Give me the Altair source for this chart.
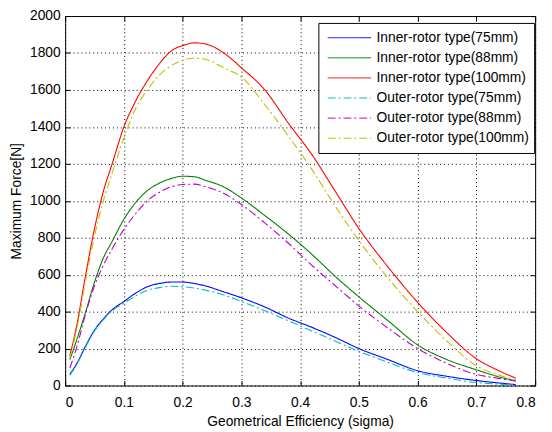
import altair as alt
import pandas as pd

sigma = [0.008, 0.02, 0.035, 0.05, 0.065, 0.08, 0.1, 0.12, 0.14, 0.16, 0.18, 0.2, 0.22, 0.24,
         0.27, 0.3, 0.34, 0.38, 0.42, 0.46, 0.5, 0.55, 0.6, 0.65, 0.7, 0.735, 0.767]

inner_75 = [60, 120, 215, 300, 360, 410, 455, 500, 535, 552, 560, 560, 552, 538,
            507, 475, 425, 365, 315, 260, 200, 140, 80, 50, 27, 15, 5]
inner_88 = [140, 250, 400, 560, 690, 780, 900, 990, 1055, 1095, 1120, 1133, 1130, 1110,
            1075, 1015, 920, 820, 710, 590, 480, 350, 220, 140, 85, 50, 25]
inner_100 = [160, 330, 600, 850, 1050, 1200, 1400, 1540, 1650, 1740, 1810, 1840, 1855, 1848,
             1800, 1720, 1600, 1420, 1250, 1050, 850, 640, 450, 285, 145, 85, 40]
outer_75 = [55, 115, 210, 295, 355, 405, 445, 485, 515, 530, 537, 535, 528, 515,
            490, 455, 405, 350, 295, 240, 185, 125, 70, 40, 16, 8, 3]
outer_88 = [95, 210, 390, 540, 650, 740, 845, 930, 1000, 1045, 1075, 1088, 1090, 1075,
            1040, 980, 880, 770, 650, 540, 430, 310, 200, 120, 60, 40, 25]
outer_100 = [150, 310, 570, 810, 1000, 1150, 1340, 1500, 1600, 1680, 1730, 1760, 1772, 1765,
             1720, 1670, 1520, 1350, 1170, 970, 785, 580, 400, 240, 107, 60, 30]

series_names = ["Inner-rotor type(75mm)", "Inner-rotor type(88mm)", "Inner-rotor type(100mm)",
                "Outer-rotor type(75mm)", "Outer-rotor type(88mm)", "Outer-rotor type(100mm)"]
series_values = [inner_75, inner_88, inner_100, outer_75, outer_88, outer_100]
colors = ["#0000ff", "#008000", "#ff0000", "#00bfbf", "#bf00bf", "#bfbf00"]
dashes = [[1, 0], [1, 0], [1, 0], [8, 3, 2, 3], [8, 3, 2, 3], [8, 3, 2, 3]]

x_ticks = [0, 0.1, 0.2, 0.3, 0.4, 0.5, 0.6, 0.7, 0.8]
y_ticks = [0, 200, 400, 600, 800, 1000, 1200, 1400, 1600, 1800, 2000]

rows = []
for name, vals in zip(series_names, series_values):
    for s, v in zip(sigma, vals):
        rows.append({"sigma": s, "force": v, "series": name})
df = pd.DataFrame(rows)

FONT = "Liberation Sans"
xs = alt.Scale(domain=[0, 0.8], nice=False, zero=False)
ys = alt.Scale(domain=[0, 2000], nice=False)

x_axis_main = alt.Axis(orient="bottom", values=x_ticks, format=".1~f", offset=-5,
                       tickSize=5, tickColor="#000", domain=False, labelPadding=10,
                       grid=True, gridDash=[1, 3], gridColor="#000", gridOpacity=1,
                       labelFont=FONT, labelFontSize=14, labelColor="#000",
                       title="Geometrical Efficiency (sigma)", titleFont=FONT,
                       titleFontSize=14, titleFontWeight="normal", titleColor="#000",
                       titlePadding=6)
y_axis_main = alt.Axis(orient="left", values=y_ticks, format="d", offset=-5,
                       tickSize=5, tickColor="#000", domain=False, labelPadding=5,
                       grid=True, gridDash=[1, 3], gridColor="#000", gridOpacity=1,
                       labelFont=FONT, labelFontSize=14, labelColor="#000",
                       title="Maximum Force[N]", titleFont=FONT,
                       titleFontSize=14, titleFontWeight="normal", titleColor="#000",
                       titlePadding=6)
x_axis_top = alt.Axis(orient="top", values=x_ticks, offset=-5, tickSize=5, tickColor="#000",
                      domain=False, labels=False, grid=False, title=None)
y_axis_right = alt.Axis(orient="right", values=y_ticks, offset=-5, tickSize=5, tickColor="#000",
                        domain=False, labels=False, grid=False, title=None)

color_scale = alt.Scale(domain=series_names, range=colors)
dash_scale = alt.Scale(domain=series_names, range=dashes)

legend = alt.Legend(title=None, orient="none", legendX=257, legendY=7,
                    strokeColor="#000", fillColor="#fff", padding=5,
                    symbolType="stroke", symbolSize=1936, symbolStrokeWidth=1,
                    symbolOffset=4, clipHeight=20, rowPadding=0.4,
                    labelFont=FONT, labelFontSize=14, labelColor="#000",
                    labelOffset=5, labelLimit=300, cornerRadius=0)

lines = alt.Chart(df).mark_line(strokeWidth=1.1, interpolate="monotone").encode(
    x=alt.X("sigma:Q", scale=xs, axis=x_axis_main),
    y=alt.Y("force:Q", scale=ys, axis=y_axis_main),
    color=alt.Color("series:N", scale=color_scale, legend=legend, sort=series_names),
    strokeDash=alt.StrokeDash("series:N", scale=dash_scale, legend=legend, sort=series_names),
    order="sigma:Q",
)

ghost = alt.Chart(df).mark_line(opacity=0).encode(
    x=alt.X("sigma:Q", scale=xs, axis=x_axis_top),
    y=alt.Y("force:Q", scale=ys, axis=y_axis_right),
    detail="series:N",
)

chart = alt.layer(lines, ghost).resolve_axis(x="independent", y="independent").properties(
    width=477, height=375,
    autosize=alt.AutoSizeParams(type="none"),
    padding={"left": 58, "top": 5, "right": 9, "bottom": 44},
    background="#ffffff",
).configure_view(stroke="#000", strokeWidth=1)

chart.save("out.html", embed_options={"renderer": "svg", "actions": False})
